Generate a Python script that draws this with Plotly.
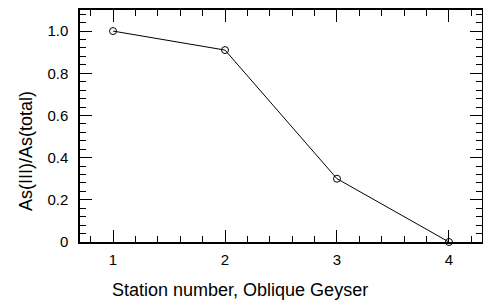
import plotly.graph_objects as go

stations = [1, 2, 3, 4]
ratio = [1.0, 0.91, 0.30, 0.0]
y_tick_vals = [0, 0.2, 0.4, 0.6, 0.8, 1.0]
y_tick_text = ["0", "0.2", "0.4", "0.6", "0.8", "1.0"]
x_tick_vals = [1, 2, 3, 4]
x_tick_text = ["1", "2", "3", "4"]
x_title = "Station number, Oblique Geyser"
y_title = "As(III)/As(total)"

fig = go.Figure()
fig.add_trace(go.Scatter(
    x=stations, y=ratio, mode="lines+markers",
    line=dict(color="black", width=1),
    marker=dict(symbol="circle-open", size=7, color="black", line=dict(width=1)),
    cliponaxis=False,
))

tick_font = dict(family="Liberation Sans, Arial, sans-serif", size=15, color="black")
title_font = dict(family="Liberation Sans, Arial, sans-serif", size=18, color="black")

fig.update_layout(
    width=483, height=302,
    margin=dict(l=80, r=1, t=10, b=60, autoexpand=False),
    paper_bgcolor="white", plot_bgcolor="white",
    showlegend=False,
    font=tick_font,
    annotations=[
        dict(text=x_title, xref="paper", yref="paper", x=0.398, y=-0.207,
             xanchor="center", yanchor="middle", showarrow=False, font=title_font),
        dict(text=y_title, xref="paper", yref="paper", x=-0.1343, y=0.392,
             xanchor="center", yanchor="middle", showarrow=False, textangle=-90,
             font=title_font),
    ],
)
fig.update_xaxes(
    range=[0.705, 4.295], tickvals=x_tick_vals, ticktext=x_tick_text,
    tickfont=tick_font, automargin=False, ticklabelstandoff=3,
    ticks="inside", ticklen=12, tickwidth=1.2, tickcolor="black",
    minor=dict(dtick=0.2, tick0=0, ticks="inside", ticklen=6, tickwidth=1, tickcolor="black"),
    showline=True, linecolor="black", linewidth=1.5, mirror="allticks",
    showgrid=False, zeroline=False,
)
fig.update_yaxes(
    range=[0, 1.1], tickvals=y_tick_vals, ticktext=y_tick_text,
    tickfont=tick_font, automargin=False, ticklabelstandoff=7,
    ticks="inside", ticklen=12, tickwidth=1.2, tickcolor="black",
    minor=dict(dtick=0.04, tick0=0, ticks="inside", ticklen=6, tickwidth=1, tickcolor="black"),
    showline=True, linecolor="black", linewidth=1.5, mirror="allticks",
    showgrid=False, zeroline=False,
)

fig.write_html(
    "out.html",
    config={"displayModeBar": False},
    post_script="document.body.style.margin='0';document.body.style.overflow='hidden';",
)
